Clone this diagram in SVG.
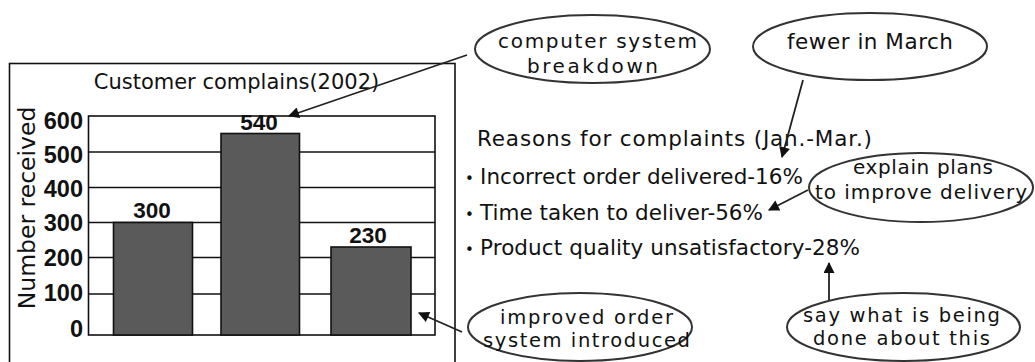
<svg xmlns="http://www.w3.org/2000/svg" width="1035" height="362" viewBox="0 0 1035 362">
<style>
.t{font-family:"DejaVu Sans",sans-serif;fill:#111}
.b{font-family:"Liberation Sans",Arial,sans-serif;font-weight:bold;fill:#111}
.el{fill:#fff;stroke:#333;stroke-width:2}
.grid{stroke:#111;stroke-width:1.6}
.bar{fill:#5a5a5a;stroke:#111;stroke-width:1.6}
.con{stroke:#222;stroke-width:1.8;fill:none;marker-end:url(#ah)}
</style>
<defs>
<marker id="ah" viewBox="0 0 10 10" refX="9" refY="5" markerUnits="userSpaceOnUse" markerWidth="15" markerHeight="11" orient="auto">
<path d="M0,0 L10,5 L0,10 z" fill="#111"/>
</marker>
</defs>
<rect width="1035" height="362" fill="#fff"/>

<g id="chart">
<rect x="9.5" y="63.5" width="445.5" height="310" fill="none" stroke="#111" stroke-width="1.6"/>
<text class="t" x="236.5" y="89" font-size="21" text-anchor="middle">Customer complains(2002)</text>
<text class="t" x="35" y="208" font-size="23.5" text-anchor="middle" transform="rotate(-90 35 208)">Number received</text>
<rect x="88.5" y="116" width="346.5" height="219" fill="#fff" stroke="#111" stroke-width="1.6"/>
<line class="grid" x1="88.5" y1="152" x2="435" y2="152"/>
<line class="grid" x1="88.5" y1="187.5" x2="435" y2="187.5"/>
<line class="grid" x1="88.5" y1="222.5" x2="435" y2="222.5"/>
<line class="grid" x1="88.5" y1="257.5" x2="435" y2="257.5"/>
<line class="grid" x1="88.5" y1="294" x2="435" y2="294"/>
<g class="b" font-size="23.5" text-anchor="end">
<text x="83" y="128.5">600</text>
<text x="83" y="162.5">500</text>
<text x="83" y="196.5">400</text>
<text x="83" y="230.5">300</text>
<text x="83" y="265.5">200</text>
<text x="83" y="300.5">100</text>
<text x="83" y="336.5">0</text>
</g>
<rect class="bar" x="113.5" y="222.5" width="79" height="112.5"/>
<rect class="bar" x="221" y="133.5" width="78.5" height="201.5"/>
<rect class="bar" x="331" y="247" width="80" height="88"/>
<g class="b" font-size="22.5" text-anchor="middle">
<text x="152" y="218">300</text>
<text x="259" y="130">540</text>
<text x="368" y="243">230</text>
</g>
</g>

<g id="reasons" class="t" font-size="21.5">
<text x="477" y="146" textLength="395" lengthAdjust="spacing">Reasons for complaints (Jan.-Mar.)</text>
<text x="465" y="184"><tspan font-size="15">•</tspan><tspan x="480" textLength="323" lengthAdjust="spacing">Incorrect order delivered-16%</tspan></text>
<text x="465" y="220"><tspan font-size="15">•</tspan><tspan x="480" textLength="283" lengthAdjust="spacing">Time taken to deliver-56%</tspan></text>
<text x="465" y="255"><tspan font-size="15">•</tspan><tspan x="480" textLength="380" lengthAdjust="spacing">Product quality unsatisfactory-28%</tspan></text>
</g>

<g id="connectors">
<line class="con" x1="467" y1="55" x2="289" y2="116"/>
<line class="con" x1="803" y1="80" x2="782" y2="157"/>
<line class="con" x1="808" y1="190" x2="769" y2="210"/>
<line class="con" x1="829" y1="302" x2="829" y2="263"/>
<line class="con" x1="462" y1="332" x2="419" y2="313"/>
</g>

<g id="n-computer">
<ellipse class="el" cx="592.5" cy="49" rx="117.5" ry="34"/>
<text class="t" x="498" y="48" font-size="20" textLength="199" lengthAdjust="spacing">computer system</text>
<text class="t" x="527" y="73" font-size="20" textLength="131" lengthAdjust="spacing">breakdown</text>
</g>
<g id="n-fewer">
<ellipse class="el" cx="870" cy="46.5" rx="117" ry="33.5"/>
<text class="t" x="787" y="49" font-size="21.5" textLength="166" lengthAdjust="spacing">fewer in March</text>
</g>
<g id="n-explain">
<ellipse class="el" cx="921" cy="187.5" rx="112" ry="34.5"/>
<text class="t" x="853" y="174" font-size="20" textLength="140" lengthAdjust="spacing">explain plans</text>
<text class="t" x="815" y="199" font-size="20" textLength="212" lengthAdjust="spacing">to improve delivery</text>
</g>
<g id="n-improved">
<ellipse class="el" cx="580" cy="327" rx="112" ry="34"/>
<text class="t" x="500" y="324" font-size="19.5" textLength="173" lengthAdjust="spacing">improved order</text>
<text class="t" x="483" y="347" font-size="19.5" textLength="207" lengthAdjust="spacing">system introduced</text>
</g>
<g id="n-say">
<ellipse class="el" cx="903.5" cy="327" rx="116.5" ry="34"/>
<text class="t" x="803" y="322" font-size="19.5" textLength="197" lengthAdjust="spacing">say what is being</text>
<text class="t" x="813" y="345" font-size="19.5" textLength="177" lengthAdjust="spacing">done about this</text>
</g>
</svg>
